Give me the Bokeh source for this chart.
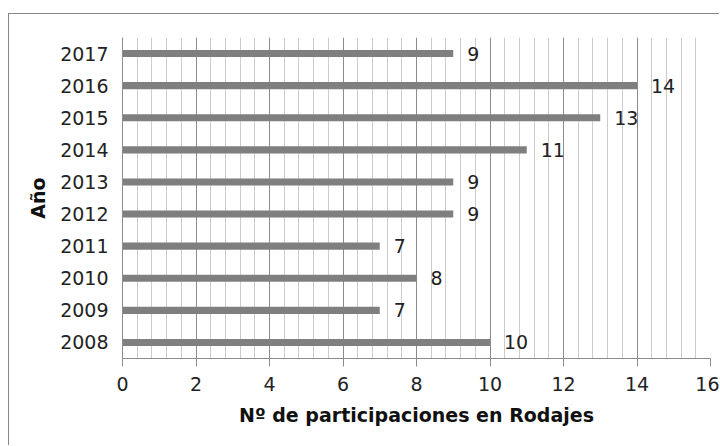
from bokeh.plotting import figure
from bokeh.models import FixedTicker, Range1d, FactorRange, ColumnDataSource
from bokeh.embed import file_html
from bokeh.resources import INLINE
from bokeh.core.properties import value

years = ["2008", "2009", "2010", "2011", "2012", "2013", "2014", "2015", "2016", "2017"]
counts = [10, 7, 8, 7, 9, 9, 11, 13, 14, 9]
labels = [str(c) for c in counts]
major_ticks = [0, 2, 4, 6, 8, 10, 12, 14, 16]

FONT = "DejaVu Sans"
FS = "19px"

src = ColumnDataSource(dict(year=years, count=counts, label=labels))

p = figure(width=711, height=432, output_backend="svg", toolbar_location=None,
           y_range=FactorRange(factors=years), x_range=Range1d(0, 16),
           min_border_left=113, min_border_right=10, min_border_top=23, min_border_bottom=88)
p.margin = (13, 0, 0, 8)
p.styles = {"border-left": "1px solid #888888", "border-top": "1px solid #888888"}
p.outline_line_color = None

p.hbar(y="year", right="count", left=0, height=0.22, source=src,
       fill_color="#7f7f7f", line_color=None)
p.text(x="count", y="year", text="label", source=src, x_offset=14,
       text_baseline="middle", text_align="left", text_font=value(FONT),
       text_font_size=FS, text_color="#222222")

minor = [i * 0.4 for i in range(41)]
p.xaxis.ticker = FixedTicker(ticks=major_ticks, minor_ticks=minor)
p.xgrid.grid_line_color = "#8c8c8c"
p.xgrid.minor_grid_line_color = "#cccccc"
p.xgrid.grid_line_width = 1
p.ygrid.grid_line_color = None

p.xaxis.axis_label = "Nº de participaciones en Rodajes"
p.yaxis.axis_label = "Año"
for ax in (p.xaxis, p.yaxis):
    ax.axis_label_text_font = FONT
    ax.axis_label_text_font_style = "bold"
    ax.axis_label_text_font_size = FS
    ax.axis_label_text_color = "#111111"
    ax.major_label_text_font = FONT
    ax.major_label_text_font_size = FS
    ax.major_label_text_color = "#222222"
    ax.axis_line_color = "#8c8c8c"
    ax.minor_tick_line_color = None

p.xaxis.major_tick_line_color = "#8c8c8c"
p.xaxis.major_tick_in = 0
p.xaxis.major_tick_out = 8
p.xaxis.major_label_standoff = 10
p.xaxis.axis_label_standoff = 10

p.yaxis.major_tick_line_color = None
p.yaxis.major_tick_out = 0
p.yaxis.major_tick_in = 0
p.yaxis.major_label_standoff = 14
p.yaxis.axis_label_standoff = 8

open("out.html", "w").write(file_html(p, INLINE))
